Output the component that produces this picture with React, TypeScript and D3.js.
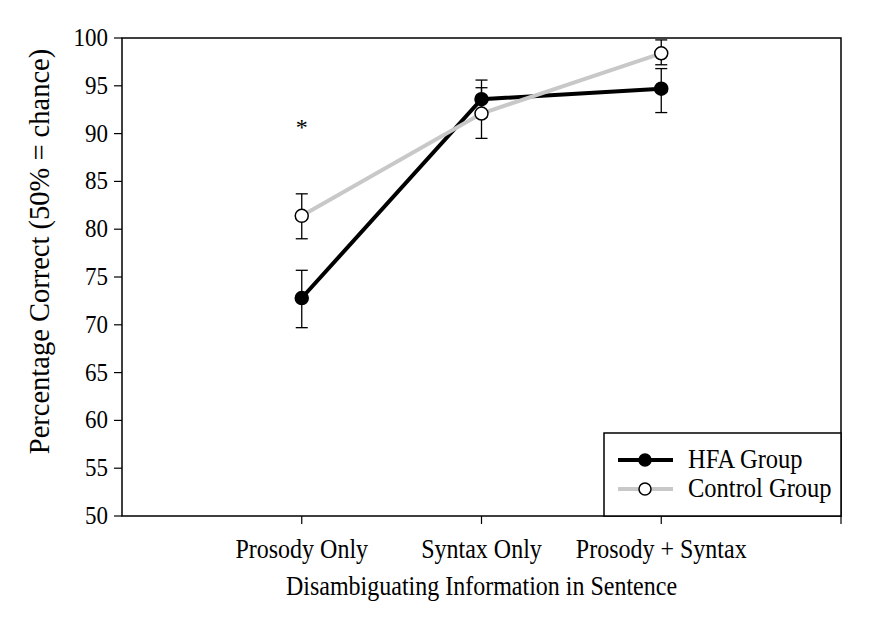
import React from "react";
import * as d3 from "d3";

const categories = ["Prosody Only", "Syntax Only", "Prosody + Syntax"];
const hfaMeans = [72.8, 93.6, 94.7];
const hfaLow = [69.7, 91.7, 92.2];
const hfaHigh = [75.7, 95.6, 96.8];
const ctrlMeans = [81.4, 92.1, 98.4];
const ctrlLow = [79.0, 89.5, 97.2];
const ctrlHigh = [83.7, 94.8, 99.8];
const yTicks = [50, 55, 60, 65, 70, 75, 80, 85, 90, 95, 100];
const seriesNames = ["HFA Group", "Control Group"];

const W = 888, H = 618;
const L = 122, R = 841, T = 38, B = 516;

export default function App() {
  const x = d3.scaleLinear().domain([0, 4]).range([L, R]);
  const y = d3.scaleLinear().domain([50, 100]).range([B, T]);
  const font = "'Liberation Serif', 'Times New Roman', serif";
  const line = d3.line<number>().x((_, i) => x(i + 1)).y((d) => y(d));

  const series = [
    { name: seriesNames[0], means: hfaMeans, lo: hfaLow, hi: hfaHigh, color: "#000", fill: "#000", lw: 4 },
    { name: seriesNames[1], means: ctrlMeans, lo: ctrlLow, hi: ctrlHigh, color: "#c8c8c8", fill: "#fff", lw: 4 },
  ];
  const sy = 1.1;

  return (
    <svg width={W} height={H} style={{ position: "absolute", left: 0, top: 0, background: "#fff" }} fontFamily={font}>
      <rect x={L} y={T} width={R - L} height={B - T} fill="none" stroke="#000" strokeWidth={1.5} />
      {yTicks.map((t) => (
        <g key={t}>
          <line x1={L - 8} x2={L} y1={y(t)} y2={y(t)} stroke="#000" strokeWidth={1.2} />
          <text transform={`translate(${L - 14},${y(t) + 8}) scale(1,${sy})`} textAnchor="end" fontSize={23}>{t}</text>
        </g>
      ))}
      {[1, 2, 3, 4].map((i) => (
        <line key={i} x1={x(i)} x2={x(i)} y1={B} y2={B + 8} stroke="#000" strokeWidth={1.2} />
      ))}
      {categories.map((c, i) => (
        <text key={c} transform={`translate(${x(i + 1)},558) scale(1,${sy})`} textAnchor="middle" fontSize={24}>{c}</text>
      ))}
      <text transform={`translate(${(L + R) / 2},595) scale(1,${sy})`} textAnchor="middle" fontSize={24}>Disambiguating Information in Sentence</text>
      <text transform={`translate(49,251.5) rotate(-90)`} textAnchor="middle" fontSize={28.5}>Percentage Correct (50% = chance)</text>

      {series.map((s) => (
        <g key={s.name}>
          {s.means.map((m, i) => (
            <g key={i} stroke="#000" strokeWidth={1.3}>
              <line x1={x(i + 1)} x2={x(i + 1)} y1={y(s.lo[i])} y2={y(s.hi[i])} />
              <line x1={x(i + 1) - 6} x2={x(i + 1) + 6} y1={y(s.lo[i])} y2={y(s.lo[i])} />
              <line x1={x(i + 1) - 6} x2={x(i + 1) + 6} y1={y(s.hi[i])} y2={y(s.hi[i])} />
            </g>
          ))}
        </g>
      ))}
      {series.map((s) => (
        <path key={s.name + "l"} d={line(s.means) || ""} fill="none" stroke={s.color} strokeWidth={s.lw} />
      ))}
      {series.map((s) => (
        <g key={s.name + "p"}>
          {s.means.map((m, i) => (
            <circle key={i} cx={x(i + 1)} cy={y(m)} r={6.5} fill={s.fill} stroke="#000" strokeWidth={1.5} />
          ))}
        </g>
      ))}
      <text x={x(1)} y={135} textAnchor="middle" fontSize={24} fill="#000">*</text>

      <rect x={604} y={433} width={R - 604} height={B - 433} fill="#fff" stroke="#000" strokeWidth={1.5} />
      {series.map((s, i) => (
        <g key={s.name + "lg"}>
          <line x1={618} x2={673} y1={460 + i * 29} y2={460 + i * 29} stroke={s.color} strokeWidth={s.lw} />
          <circle cx={645} cy={460 + i * 29} r={6} fill={s.fill} stroke="#000" strokeWidth={1.5} />
          <text transform={`translate(688,${468 + i * 29}) scale(1,${sy})`} fontSize={24.5}>{s.name}</text>
        </g>
      ))}
    </svg>
  );
}
